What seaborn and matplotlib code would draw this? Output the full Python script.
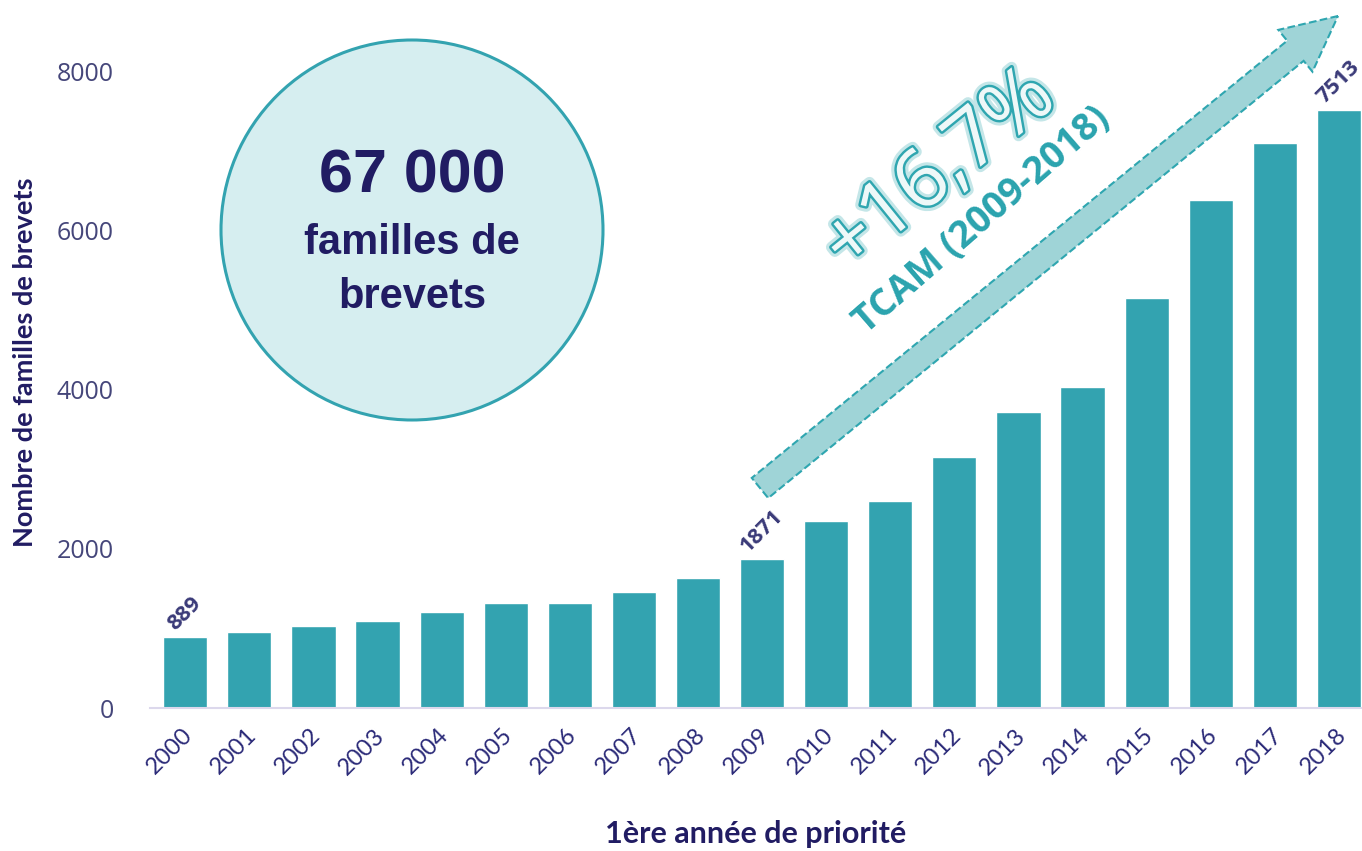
import pandas as pd
import matplotlib
matplotlib.use('Agg')
import matplotlib.pyplot as plt
import matplotlib.patches as mpatches
import matplotlib.transforms as mtransforms
import matplotlib.patheffects as pe
import seaborn as sns

# données
annees = ['2000', '2001', '2002', '2003', '2004', '2005', '2006', '2007', '2008', '2009',
          '2010', '2011', '2012', '2013', '2014', '2015', '2016', '2017', '2018']
familles = [889, 956, 1031, 1094, 1208, 1321, 1321, 1459, 1635, 1871,
            2352, 2604, 3157, 3723, 4038, 5157, 6390, 7107, 7513]
annees_annotees = ['2000', '2009', '2018']
graduations_y = [0, 2000, 4000, 6000, 8000]

TEAL = '#33a3b0'
NAVY = '#211c63'
NAVY_TICK = '#45467a'

sns.set_theme(style='white')
plt.rcParams['font.family'] = ['Open Sans', 'DejaVu Sans']

W, H = 1362, 851
fig = plt.figure(figsize=(W / 100, H / 100), dpi=100)
fig.patch.set_facecolor('white')
ax = fig.add_axes([150 / W, 1 - 708 / H, 1 - 150 / W, (708 - 16) / H])

df = pd.DataFrame({'annee': annees, 'familles': familles})
sns.barplot(data=df, x='annee', y='familles', color=TEAL, saturation=1,
            width=0.69, ax=ax)

ax.set_xlim(-0.55, 18.36)
ax.set_ylim(0, 8700)
ax.set_yticks(graduations_y)
ax.tick_params(axis='y', length=0, pad=26, labelsize=18, labelcolor=NAVY_TICK)
ax.tick_params(axis='x', length=0, pad=12, labelsize=17, labelcolor='#2b2a78')
for lab in ax.get_yticklabels():
    lab.set_family(['Open Sans', 'DejaVu Sans'])
decal = mtransforms.ScaledTranslation(8 / 72, 0, fig.dpi_scale_trans)
for lab in ax.get_xticklabels():
    lab.set_rotation(45)
    lab.set_ha('right')
    lab.set_family(['Lato', 'DejaVu Sans'])
    lab.set_transform(lab.get_transform() + decal)

for s in ['top', 'right', 'left']:
    ax.spines[s].set_visible(False)
ax.spines['bottom'].set_color('#dcd8ec')
ax.spines['bottom'].set_linewidth(1.5)

ax.set_xlabel('1ère année de priorité', fontsize=22, fontweight='bold', color=NAVY,
              family=['Lato', 'DejaVu Sans'], labelpad=30)
ax.set_ylabel('Nombre de familles de brevets', fontsize=19.5, fontweight='bold', color=NAVY,
              family=['Lato', 'DejaVu Sans'], labelpad=14)

# étiquettes de valeurs
for a in annees_annotees:
    i = annees.index(a)
    v = familles[i]
    ax.annotate(str(v), (i, v), xytext=(0, 2), textcoords='offset points',
                rotation=45, ha='center', va='bottom', fontsize=16,
                fontweight='bold', color='#3a3a78', family=['Open Sans', 'DejaVu Sans'])

# repère en pixels (origine en haut à gauche)
px = mtransforms.Affine2D().scale(1 / W, -1 / H).translate(0, 1) + fig.transFigure

cercle = mpatches.Ellipse((412, 230), 382, 380, transform=px, facecolor='#d6eef0',
                          edgecolor=TEAL, linewidth=2.2, zorder=5)
fig.add_artist(cercle)
fig.text(412, 177, '67 000', transform=px, ha='center', va='center', fontsize=44,
         fontweight='bold', color=NAVY, family=['Liberation Sans', 'DejaVu Sans'], zorder=6)
fig.text(412, 243, 'familles de', transform=px, ha='center', va='center', fontsize=30,
         fontweight='bold', color=NAVY, family=['Liberation Sans', 'DejaVu Sans'], zorder=6)
fig.text(412, 297, 'brevets', transform=px, ha='center', va='center', fontsize=30,
         fontweight='bold', color=NAVY, family=['Liberation Sans', 'DejaVu Sans'], zorder=6)

fleche = mpatches.FancyArrow(760, 488, 578, -472, width=26, head_width=54, head_length=55,
                             length_includes_head=True, transform=px,
                             facecolor='#9fd4d7', edgecolor='#2fa6b0', linestyle='--',
                             linewidth=1.5, zorder=4)
fig.add_artist(fleche)

fig.text(940, 172, '+16,7%', transform=px, ha='center', va='center', rotation=39,
         fontsize=58, color='#eef8f8', family=['Open Sans', 'DejaVu Sans'], zorder=6,
         path_effects=[pe.Stroke(linewidth=8, foreground='#c4e6e8'),
                       pe.Stroke(linewidth=3.5, foreground='#2fa6b0'), pe.Normal()])
fig.text(982, 220, 'TCAM (2009-2018)', transform=px, ha='center', va='center', rotation=41,
         fontsize=27, fontweight='bold', color='#2aa3ae', family=['Open Sans', 'DejaVu Sans'],
         zorder=6)

fig.savefig('out.png', dpi=100, facecolor='white')
